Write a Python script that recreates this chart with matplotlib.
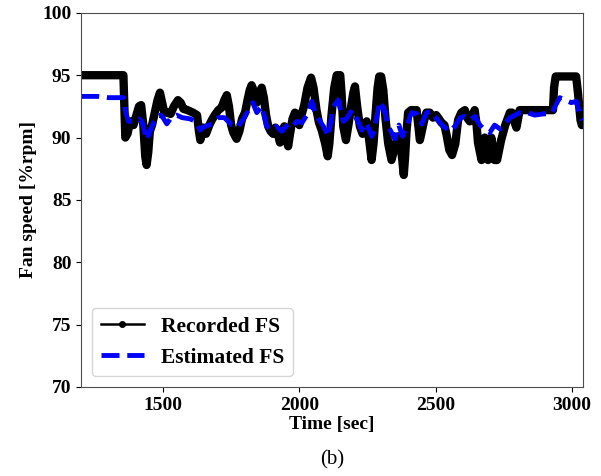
import numpy as np
import matplotlib
matplotlib.use("Agg")
import matplotlib.pyplot as plt
from matplotlib.lines import Line2D

plt.rcParams['font.family'] = ['Liberation Serif', 'DejaVu Serif']
plt.rcParams['font.weight'] = 'bold'

# recorded fan speed
rec_t = [1200, 1355, 1362, 1370, 1380, 1392, 1400, 1412, 1420, 1428, 1435, 1440, 1446, 1452,
         1460, 1470, 1480, 1489, 1497, 1505, 1515, 1528, 1540, 1555, 1565, 1575, 1590, 1610,
         1625, 1632, 1637, 1648, 1658, 1670, 1679, 1690, 1703, 1715, 1725, 1734, 1742, 1750,
         1758, 1770, 1780, 1790, 1801, 1810, 1818, 1825, 1832, 1838, 1844, 1852, 1862, 1870,
         1878, 1886, 1895, 1904, 1912, 1918, 1929, 1938, 1945, 1952, 1959, 1966, 1975, 1984,
         1992, 2000, 2008, 2018, 2030, 2043, 2052, 2063, 2072, 2082, 2095, 2104, 2110, 2118,
         2128, 2137, 2150, 2155, 2161, 2171, 2180, 2190, 2198, 2204, 2212, 2222, 2232, 2240,
         2247, 2255, 2265, 2272, 2280, 2287, 2293, 2300, 2308, 2316, 2326, 2338, 2345, 2353,
         2362, 2370, 2376, 2383, 2388, 2393, 2399, 2410, 2430, 2437, 2442, 2450, 2458, 2466,
         2478, 2490, 2502, 2512, 2521, 2532, 2540, 2550, 2560, 2572, 2582, 2594, 2607, 2615,
         2625, 2635, 2643, 2650, 2655, 2668, 2680, 2692, 2704, 2716, 2725, 2740, 2755, 2772,
         2780, 2788, 2796, 2802, 2808, 2930, 2934, 2940, 3015, 3022, 3031, 3036]
rec_fs = [95.0, 95.0, 90.0, 90.3, 91.3, 91.0, 91.6, 92.5, 92.6, 91.0, 88.5, 87.8, 88.8, 90.5,
          91.0, 92.0, 93.0, 93.6, 92.8, 92.0, 92.0, 91.9, 92.5, 93.0, 92.8, 92.3, 92.2, 92.0,
          91.8, 90.5, 89.8, 90.8, 90.3, 91.0, 91.4, 91.8, 92.2, 92.4, 93.0, 93.4, 92.5, 91.0,
          90.4, 89.9, 90.5, 91.5, 92.0, 93.0, 93.8, 94.2, 93.8, 93.0, 92.8, 93.5, 94.0, 93.2,
          91.8, 90.9, 90.5, 90.3, 90.8, 90.6, 89.6, 90.6, 90.9, 90.0, 89.3, 90.3, 91.5, 92.0,
          91.6, 91.0, 91.8, 92.6, 94.0, 94.8, 94.0, 92.2, 91.2, 90.6, 89.5, 88.5, 89.5, 91.8,
          94.0, 95.0, 95.0, 93.5, 90.9, 89.8, 91.0, 92.5, 93.6, 94.1, 92.5, 90.9, 90.3, 90.8,
          91.3, 90.0, 88.2, 89.5, 92.0, 94.0, 94.9, 94.9, 93.8, 91.5, 89.5, 88.2, 88.8, 89.5,
          90.1, 89.6, 88.5, 87.0, 88.5, 90.5, 92.0, 92.2, 92.2, 90.8, 89.8, 90.6, 91.4, 92.0,
          92.0, 91.6, 91.8, 91.5, 91.2, 91.0, 90.2, 89.0, 88.6, 89.5, 91.4, 92.0, 92.2, 91.6,
          91.3, 91.8, 92.2, 91.0, 89.6, 88.2, 90.0, 88.2, 90.0, 88.2, 88.2, 89.8, 91.0, 92.0,
          92.0, 91.3, 90.8, 91.5, 92.2, 92.2, 94.0, 94.9, 94.9, 93.5, 91.4, 91.0]

# estimated fan speed
est_t = [1200, 1260, 1300, 1354, 1361, 1373, 1398, 1410, 1422, 1432, 1440, 1450, 1459, 1477,
         1490, 1500, 1514, 1530, 1550, 1570, 1599, 1620, 1636, 1645, 1654, 1680, 1703, 1725,
         1752, 1770, 1795, 1813, 1829, 1844, 1862, 1880, 1899, 1915, 1935, 1959, 1975, 1990,
         2010, 2033, 2045, 2060, 2088, 2106, 2124, 2142, 2161, 2175, 2192, 2210, 2228, 2245,
         2265, 2280, 2295, 2310, 2326, 2350, 2365, 2378, 2395, 2411, 2430, 2448, 2466, 2485,
         2503, 2527, 2551, 2570, 2589, 2607, 2625, 2643, 2662, 2680, 2698, 2716, 2735, 2752,
         2772, 2790, 2808, 2835, 2863, 2895, 2924, 2940, 2955, 2975, 2997, 3015, 3031, 3036]
est_fs = [93.3, 93.3, 93.2, 93.2, 92.2, 91.3, 91.3, 91.5, 91.3, 90.5, 89.8, 90.4, 90.9, 91.7,
          91.8, 91.6, 91.1, 91.6, 91.8, 91.6, 91.5, 91.3, 90.6, 90.8, 90.9, 91.1, 91.6, 91.6,
          91.0, 90.8, 91.5, 92.2, 92.8, 92.0, 92.5, 90.9, 90.6, 90.9, 90.5, 91.1, 90.9, 91.3,
          91.2, 92.0, 92.9, 91.8, 90.9, 90.1, 92.5, 93.0, 91.3, 91.6, 92.2, 91.5, 90.6, 91.2,
          90.1, 91.3, 92.9, 92.3, 90.9, 89.9, 91.0, 90.1, 91.0, 92.0, 91.9, 91.1, 92.0, 92.1,
          91.5, 90.9, 90.5, 90.9, 91.6, 91.7, 91.4, 91.7, 91.0, 90.6, 90.4, 91.0, 90.7, 91.1,
          91.6, 91.8, 92.0, 92.0, 91.8, 91.9, 91.9, 92.6, 93.2, 93.0, 92.8, 92.9, 91.6, 91.4]

x_ticks = [1500, 2000, 2500, 3000]
y_ticks = [70, 75, 80, 85, 90, 95, 100]

fig = plt.figure(figsize=(6.01, 4.76), dpi=100)
ax = fig.add_axes([0.135, 0.187, 0.835, 0.786])

ax.plot(rec_t, rec_fs, color='black', lw=6, solid_joinstyle='round', solid_capstyle='round')
ax.plot(est_t, est_fs, color='blue', lw=3.5, linestyle='--')

ax.set_xlim(1200, 3040)
ax.set_ylim(70, 100)
ax.set_xticks(x_ticks)
ax.set_yticks(y_ticks)
ax.tick_params(labelsize=14)
for s in ax.spines.values():
    s.set_color('0.3')

ax.set_xlabel('Time [sec]', fontsize=14, fontweight='bold', labelpad=2)
ax.set_ylabel('Fan speed [%rpm]', fontsize=14, fontweight='bold')

handles = [Line2D([], [], color='black', lw=1.8, marker='o', ms=4),
           Line2D([], [], color='blue', lw=3.5, linestyle='--')]
ax.legend(handles, ['Recorded FS', 'Estimated FS'], loc='lower left',
          prop={'size': 15.5, 'weight': 'bold'})

fig.text(0.553, 0.025, '(b)', ha='center', fontsize=15, fontweight='normal')

fig.savefig('out.png', dpi=100)
